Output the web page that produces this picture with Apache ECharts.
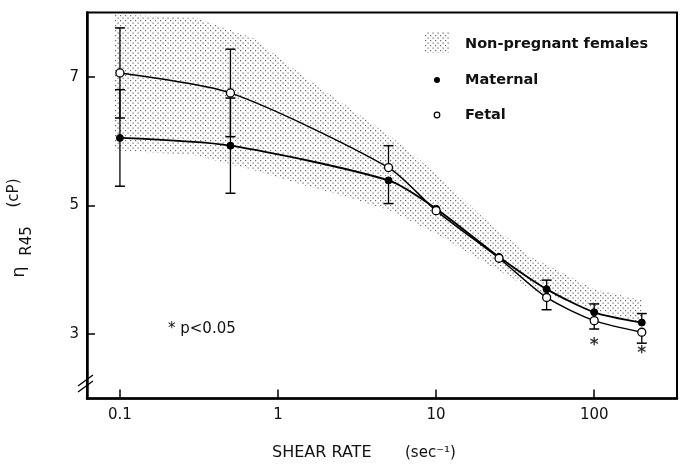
<!DOCTYPE html>
<html>
<head>
<meta charset="utf-8">
<script src="https://cdn.jsdelivr.net/npm/echarts@6/dist/echarts.min.js"></script>
<style>html,body{margin:0;padding:0;background:#fff}#c{width:691px;height:467px}</style>
</head>
<body>
<div id="c"></div>
<script>
// ---- data ----
const shearRates = [0.1, 0.5, 5, 10, 25, 50, 100, 200];
const maternal   = [6.05, 5.93, 5.39, 4.95, 4.20, 3.70, 3.34, 3.18];
const fetal      = [7.06, 6.75, 5.59, 4.92, 4.18, 3.57, 3.21, 3.03];
const maternalErrUp   = [0.75, 0.74, 0,    0, 0, 0.14, 0.13, 0.14];
const maternalErrDown = [0.75, 0.74, 0.36, 0, 0, 0,    0,    0];
const fetalErrUp      = [0.70, 0.68, 0.34, 0, 0, 0,    0,    0];
const fetalErrDown    = [0.70, 0.68, 0,    0, 0, 0.19, 0.13, 0.17];
const bandX    = [0.093, 0.3, 0.7, 1.3, 2.2, 5, 10, 20, 40, 100, 200];
const bandHigh = [7.97, 7.92, 7.60, 7.10, 6.70, 6.10, 5.50, 4.80, 4.20, 3.70, 3.53];
const bandLow  = [5.86, 5.78, 5.55, 5.35, 5.20, 4.93, 4.56, 4.12, 3.70, 3.38, 3.18];
const sigX = [100, 200];
const sigY = [2.83, 2.70];
const xTickValues = [0.1, 1, 10, 100];
const xTickLabels = ['0.1', '1', '10', '100'];
const yTickValues = [3, 5, 7];
const yTickLabels = ['3', '5', '7'];

// dotted pattern
function makePattern() {
  const c = document.createElement('canvas');
  c.width = 5; c.height = 5;
  const g = c.getContext('2d');
  g.fillStyle = '#fff'; g.fillRect(0, 0, 5, 5);
  g.fillStyle = '#666';
  g.fillRect(0, 0, 1.2, 1.2);
  g.fillRect(2.5, 2.5, 1.2, 1.2);
  return c;
}
const pattern = { image: makePattern(), repeat: 'repeat' };

const chart = echarts.init(document.getElementById('c'));
const FONT = 'DejaVu Sans';

function errData(ys, up, down) {
  return shearRates.map((x, i) => [x, ys[i] - down[i], ys[i] + up[i], up[i] > 0 ? 1 : 0, down[i] > 0 ? 1 : 0]);
}
function errRender(params, api) {
  const x = api.value(0);
  const lo = api.value(1), hi = api.value(2);
  const hasUp = api.value(3), hasDown = api.value(4);
  const pLo = api.coord([x, lo]);
  const pHi = api.coord([x, hi]);
  const children = [{
    type: 'line', shape: { x1: pLo[0], y1: pLo[1], x2: pHi[0], y2: pHi[1] },
    style: { stroke: '#000', lineWidth: 1.3 }
  }];
  const w = 5;
  if (hasUp) children.push({ type: 'line', shape: { x1: pHi[0] - w, y1: pHi[1], x2: pHi[0] + w, y2: pHi[1] }, style: { stroke: '#000', lineWidth: 1.5 } });
  if (hasDown) children.push({ type: 'line', shape: { x1: pLo[0] - w, y1: pLo[1], x2: pLo[0] + w, y2: pLo[1] }, style: { stroke: '#000', lineWidth: 1.5 } });
  return { type: 'group', children };
}

const option = {
  animation: false,
  backgroundColor: '#fff',
  grid: { left: 87, top: 12.5, right: 14, bottom: 68.5, show: true, borderColor: '#000', borderWidth: 2, backgroundColor: 'transparent' },
  xAxis: {
    type: 'log', logBase: 10, min: 0.0619, max: 334,
    axisLine: { lineStyle: { color: '#000', width: 2.5 } },
    axisTick: { inside: true, length: 9, lineStyle: { color: '#000', width: 1.5 } },
    splitLine: { show: false },
    axisLabel: {
      color: '#111', fontFamily: FONT, fontSize: 15, margin: 9,
      formatter: v => {
        const i = xTickValues.findIndex(t => Math.abs(Math.log10(t) - Math.log10(v)) < 1e-6);
        return i >= 0 ? xTickLabels[i] : '';
      }
    }
  },
  yAxis: {
    type: 'value', min: 2, max: 8, interval: 1,
    axisLine: { lineStyle: { color: '#000', width: 2.5 } },
    axisTick: { inside: true, length: 8, customValues: yTickValues, lineStyle: { color: '#000', width: 1.5 } },
    splitLine: { show: false },
    axisLabel: {
      customValues: yTickValues,
      color: '#111', fontFamily: FONT, fontSize: 15, margin: 8,
      formatter: v => { const i = yTickValues.indexOf(v); return i >= 0 ? yTickLabels[i] : ''; }
    }
  },
  series: [
    {
      type: 'custom', z: 1, silent: true,
      data: [0],
      renderItem: (params, api) => {
        const pts = [];
        for (let i = 0; i < bandX.length; i++) pts.push(api.coord([bandX[i], bandHigh[i]]));
        for (let i = bandX.length - 1; i >= 0; i--) pts.push(api.coord([bandX[i], bandLow[i]]));
        return { type: 'polygon', shape: { points: pts }, style: { fill: pattern, stroke: null } };
      }
    },
    { type: 'custom', z: 3, data: errData(fetal, fetalErrUp, fetalErrDown), renderItem: errRender },
    { type: 'custom', z: 3, data: errData(maternal, maternalErrUp, maternalErrDown), renderItem: errRender },
    {
      type: 'line', z: 4, smooth: 0.25,
      data: shearRates.map((x, i) => [x, maternal[i]]),
      symbol: 'circle', symbolSize: 7,
      itemStyle: { color: '#000', borderColor: '#000' },
      lineStyle: { color: '#000', width: 1.8 }
    },
    {
      type: 'line', z: 5, smooth: 0.25,
      data: shearRates.map((x, i) => [x, fetal[i]]),
      symbol: 'circle', symbolSize: 8,
      itemStyle: { color: '#fff', borderColor: '#000', borderWidth: 1.3 },
      lineStyle: { color: '#000', width: 1.5 }
    },
    {
      type: 'scatter', z: 6, symbol: 'circle', symbolSize: 1,
      itemStyle: { color: 'rgba(0,0,0,0)' },
      data: sigX.map((x, i) => [x, sigY[i]]),
      label: { show: true, formatter: '*', position: 'inside', color: '#000', fontSize: 17, fontWeight: 'bold', fontFamily: FONT }
    }
  ],
  graphic: [
    { type: 'rect', shape: { x: 425, y: 32, width: 24, height: 21 }, style: { fill: pattern } },
    { type: 'text', x: 465, y: 44, style: { text: 'Non-pregnant females', font: 'bold 14.5px "DejaVu Sans"', fill: '#111', textVerticalAlign: 'middle' } },
    { type: 'circle', shape: { cx: 437, cy: 80, r: 3 }, style: { fill: '#000' } },
    { type: 'text', x: 465, y: 80, style: { text: 'Maternal', font: 'bold 14.5px "DejaVu Sans"', fill: '#111', textVerticalAlign: 'middle' } },
    { type: 'circle', shape: { cx: 437, cy: 115, r: 2.8 }, style: { fill: '#fff', stroke: '#000', lineWidth: 1.2 } },
    { type: 'text', x: 465, y: 115, style: { text: 'Fetal', font: 'bold 14.5px "DejaVu Sans"', fill: '#111', textVerticalAlign: 'middle' } },
    { type: 'text', x: 168, y: 329, style: { text: '* p<0.05', font: '15px "DejaVu Sans"', fill: '#111', textVerticalAlign: 'middle' } },
    { type: 'text', x: 272, y: 453, style: { text: 'SHEAR RATE', font: '16px "DejaVu Sans"', fill: '#111', textVerticalAlign: 'middle' } },
    { type: 'text', x: 405, y: 453, style: { text: '(sec\u207B\u00B9)', font: '15px "DejaVu Sans"', fill: '#111', textVerticalAlign: 'middle' } },
    {
      type: 'group', x: 20, y: 228, rotation: Math.PI / 2,
      children: [
        { type: 'text', x: -44, y: -1, style: { text: '\u03B7', font: '18px "DejaVu Sans"', fill: '#111', textAlign: 'center', textVerticalAlign: 'middle' } },
        { type: 'text', x: -13, y: 7, style: { text: 'R45', font: '15px "DejaVu Sans"', fill: '#111', textAlign: 'center', textVerticalAlign: 'middle' } },
        { type: 'text', x: 35, y: -6, style: { text: '(cP)', font: '15px "DejaVu Sans"', fill: '#111', textAlign: 'center', textVerticalAlign: 'middle' } }
      ]
    },
    { type: 'line', shape: { x1: 78, y1: 386, x2: 93, y2: 375 }, style: { stroke: '#000', lineWidth: 1.3 } },
    { type: 'line', shape: { x1: 78, y1: 392, x2: 93, y2: 381 }, style: { stroke: '#000', lineWidth: 1.3 } }
  ]
};
chart.setOption(option);
</script>
</body>
</html>
